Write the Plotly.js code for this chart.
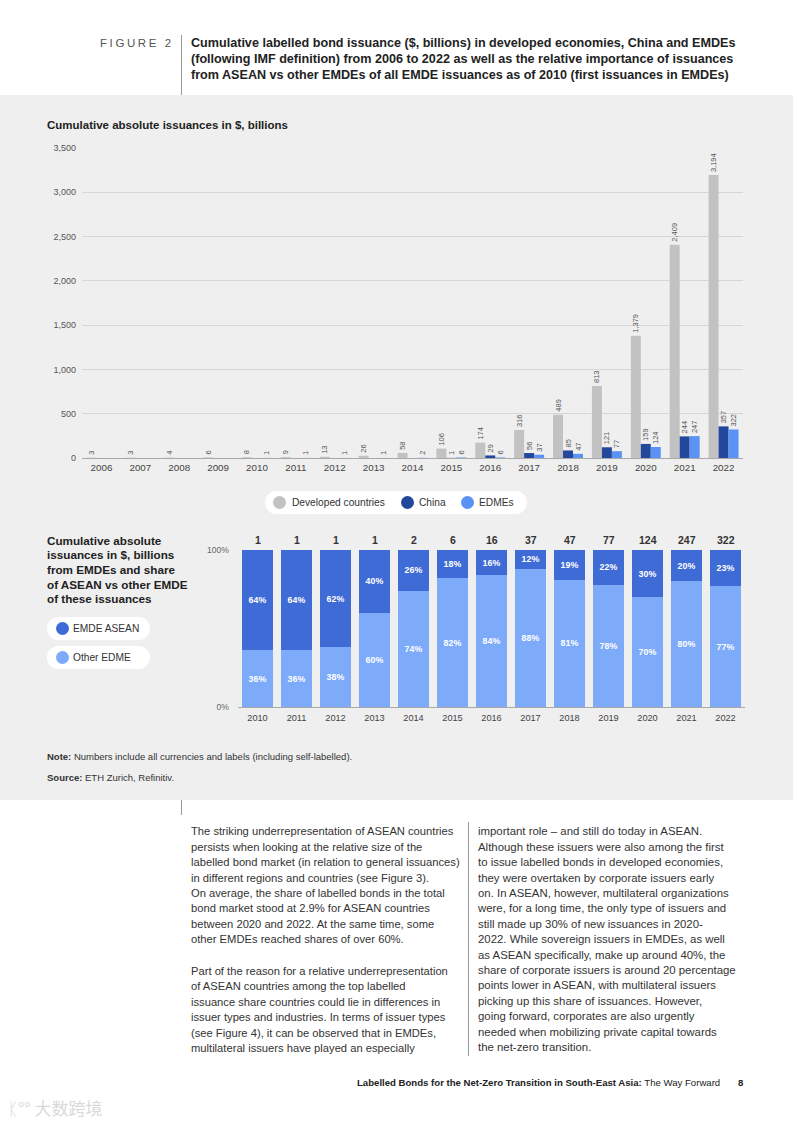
<!DOCTYPE html>
<html>
<head>
<meta charset="utf-8">
<script src="https://cdn.plot.ly/plotly-3.0.1.min.js"></script>
<style>
  html, body { margin:0; padding:0; }
  body { width:793px; height:1122px; position:relative; background:#fff; font-family:"Liberation Sans", Arial, Helvetica, sans-serif; color:#222; overflow:hidden; }
  .abs { position:absolute; }
  .pill { position:absolute; background:#fff; border-radius:12px; }
  .dot { position:absolute; border-radius:50%; }
  .lbl { position:absolute; font-size:10.2px; color:#333; line-height:12px; white-space:nowrap; }
  .body { position:absolute; font-size:11.2px; line-height:15.4px; color:#333; white-space:nowrap; }
</style>
</head>
<body>
<script>
// ---------- DATA ----------
const years = ['2006','2007','2008','2009','2010','2011','2012','2013','2014','2015','2016','2017','2018','2019','2020','2021','2022'];
const developed = [3,3,4,6,8,9,13,26,58,106,174,316,489,813,1379,2409,3194];
const china = [null,null,null,null,null,null,null,null,null,1,29,56,85,121,159,244,357];
const emde = [null,null,null,null,1,1,1,1,2,6,6,37,47,77,124,247,322];

const shareYears = ['2010','2011','2012','2013','2014','2015','2016','2017','2018','2019','2020','2021','2022'];
const aseanShare = [64,64,62,40,26,18,16,12,19,22,30,20,23];
const otherShare = [36,36,38,60,74,82,84,88,81,78,70,80,77];
const emdeTotals = [1,1,1,1,2,6,16,37,47,77,124,247,322];

const yTicks = [0,500,1000,1500,2000,2500,3000,3500];
</script>

<!-- header -->
<div class="abs" style="left:100px; top:35px; font-size:11.5px; line-height:16px; letter-spacing:2.6px; color:#555;">FIGURE 2</div>
<div class="abs" style="left:181px; top:35px; width:0; height:60px; border-left:1px solid #999;"></div>
<div class="abs" style="left:191px; top:35px; font-size:12.6px; line-height:16px; font-weight:bold; color:#222; white-space:nowrap;">Cumulative labelled bond issuance ($, billions) in developed economies, China and EMDEs<br>(following IMF definition) from 2006 to 2022 as well as the relative importance of issuances<br>from ASEAN vs other EMDEs of all EMDE issuances as of 2010 (first issuances in EMDEs)</div>

<!-- grey panel -->
<div class="abs" style="left:0; top:95px; width:793px; height:705px; background:#efefef;"></div>

<div id="top" class="abs" style="left:0; top:95px; width:793px; height:430px;"></div>

<!-- top legend -->
<div class="pill" style="left:265px; top:491px; width:262px; height:23px; border-radius:11.5px;"></div>
<div class="dot" style="left:272.5px; top:496px; width:13px; height:13px; background:#c2c2c2;"></div>
<div class="lbl" style="left:292px; top:496.5px;">Developed countries</div>
<div class="dot" style="left:400.5px; top:496px; width:13px; height:13px; background:#23479b;"></div>
<div class="lbl" style="left:419px; top:496.5px;">China</div>
<div class="dot" style="left:460.5px; top:496px; width:13px; height:13px; background:#5a93f5;"></div>
<div class="lbl" style="left:479px; top:496.5px;">EDMEs</div>

<div id="bottom" class="abs" style="left:0; top:525px; width:793px; height:210px;"></div>

<!-- bottom-left title + legend -->
<div class="abs" style="left:47px; top:533.5px; font-size:11.7px; line-height:14.7px; font-weight:bold; color:#222; white-space:nowrap;">Cumulative absolute<br>issuances in $, billions<br>from EMDEs and share<br>of ASEAN vs other EMDE<br>of these issuances</div>
<div class="pill" style="left:47px; top:617px; width:103px; height:23px; border-radius:11.5px;"></div>
<div class="dot" style="left:55.5px; top:622px; width:13px; height:13px; background:#3f6bd6;"></div>
<div class="lbl" style="left:73px; top:622.5px; font-size:10.2px;">EMDE ASEAN</div>
<div class="pill" style="left:47px; top:646px; width:103px; height:23px; border-radius:11.5px;"></div>
<div class="dot" style="left:55.5px; top:651px; width:13px; height:13px; background:#7eabf9;"></div>
<div class="lbl" style="left:73px; top:651.5px; font-size:10.2px;">Other EDME</div>

<!-- notes -->
<div class="abs" style="left:47px; top:751px; font-size:9.5px; line-height:12px; color:#333; white-space:nowrap;"><b>Note:</b> Numbers include all currencies and labels (including self-labelled).</div>
<div class="abs" style="left:47px; top:772px; font-size:9.5px; line-height:12px; color:#333; white-space:nowrap;"><b>Source:</b> ETH Zurich, Refinitiv.</div>

<div class="abs" style="left:181px; top:800px; width:0; height:15px; border-left:1px solid #999;"></div>

<!-- body text -->
<div class="body" style="left:191px; top:824.3px;">The striking underrepresentation of ASEAN countries<br>persists when looking at the relative size of the<br>labelled bond market (in relation to general issuances)<br>in different regions and countries (see Figure 3).<br>On average, the share of labelled bonds in the total<br>bond market stood at 2.9% for ASEAN countries<br>between 2020 and 2022. At the same time, some<br>other EMDEs reached shares of over 60%.
<div style="margin-top:16.5px;">Part of the reason for a relative underrepresentation<br>of ASEAN countries among the top labelled<br>issuance share countries could lie in differences in<br>issuer types and industries. In terms of issuer types<br>(see Figure 4), it can be observed that in EMDEs,<br>multilateral issuers have played an especially</div></div>

<div class="abs" style="left:468px; top:822px; width:0; height:234px; border-left:1px solid #999;"></div>
<div class="body" style="left:478px; top:824.3px; font-size:11.4px;">important role – and still do today in ASEAN.<br>Although these issuers were also among the first<br>to issue labelled bonds in developed economies,<br>they were overtaken by corporate issuers early<br>on. In ASEAN, however, multilateral organizations<br>were, for a long time, the only type of issuers and<br>still made up 30% of new issuances in 2020-<br>2022. While sovereign issuers in EMDEs, as well<br>as ASEAN specifically, make up around 40%, the<br>share of corporate issuers is around 20 percentage<br>points lower in ASEAN, with multilateral issuers<br>picking up this share of issuances. However,<br>going forward, corporates are also urgently<br>needed when mobilizing private capital towards<br>the net-zero transition.</div>

<!-- footer -->
<div class="abs" style="left:357px; top:1077px; font-size:9.6px; line-height:12px; color:#222; white-space:nowrap;"><span style="font-weight:bold;">Labelled Bonds for the Net-Zero Transition in South-East Asia:</span> The Way Forward</div>
<div class="abs" style="left:738px; top:1077px; font-size:9.6px; line-height:12px; font-weight:bold; color:#222;">8</div>
<div class="abs" style="left:8px; top:1097px; font-size:17px; line-height:22px; color:#d9d9d9; font-family:'Noto Sans CJK SC', sans-serif; white-space:nowrap;">ᛕ°° 大数跨境</div>

<script>
const FONT = '"Liberation Sans", Arial, Helvetica, sans-serif';

// ---------- TOP CHART ----------
function barTrace(name, vals, color) {
  return {
    type: 'bar', name: name, x: years, y: vals,
    marker: { color: color },
    text: vals.map(v => v == null ? '' : v.toLocaleString('en-US')),
    textposition: 'outside', textangle: -90, constraintext: 'none', cliponaxis: false,
    textfont: { family: FONT, size: 7.5, color: '#555' },
    hoverinfo: 'x+y', showlegend: false
  };
}
const topData = [
  barTrace('Developed countries', developed, '#c2c2c2'),
  barTrace('China', china, '#23479b'),
  barTrace('EDMEs', emde, '#5a93f5')
];
const topLayout = {
  width: 793, height: 430,
  margin: { l: 81.5, r: 49.5, t: 53, b: 67 },
  paper_bgcolor: 'rgba(0,0,0,0)', plot_bgcolor: 'rgba(0,0,0,0)',
  barmode: 'group', bargap: 0.23, bargroupgap: 0,
  title: { text: 'Cumulative absolute issuances in $, billions', x: 47/793, xanchor: 'left', xref: 'container',
           y: 1 - 30/430, yanchor: 'middle', yref: 'container',
           font: { family: FONT, size: 11.5, color: '#222', weight: 'bold' } },
  xaxis: { type: 'category', range: [-0.5, years.length - 0.5], autorange: false,
           showline: true, linecolor: '#a8a8a8', linewidth: 1, ticks: '', showgrid: false,
           tickfont: { family: FONT, size: 9.8, color: '#444' }, fixedrange: true },
  yaxis: { range: [0, 3500], autorange: false, tickvals: yTicks, tickformat: ',', ticks: '', showline: false, zeroline: false,
           gridcolor: '#d6d6d6', gridwidth: 1, tickfont: { family: FONT, size: 9, color: '#555' },
           ticklabelstandoff: 5, fixedrange: true },
  font: { family: FONT }
};
Plotly.newPlot('top', topData, topLayout, { displayModeBar: false, staticPlot: true });

// ---------- BOTTOM CHART ----------
const pctFont = { family: FONT, size: 8.8, color: '#ffffff', weight: 'bold' };
const bottomData = [
  { type: 'bar', name: 'Other EDME', x: shareYears, y: otherShare, marker: { color: '#7eabf9' },
    text: otherShare.map(v => v + '%'), textposition: 'inside', insidetextanchor: 'middle', textangle: 0,
    constraintext: 'none', textfont: pctFont, showlegend: false },
  { type: 'bar', name: 'EMDE ASEAN', x: shareYears, y: aseanShare, marker: { color: '#3f6bd6' },
    text: aseanShare.map(v => v + '%'), textposition: 'inside', insidetextanchor: 'middle', textangle: 0,
    constraintext: 'none', textfont: pctFont, showlegend: false }
];
const bottomLayout = {
  width: 793, height: 210,
  margin: { l: 237.5, r: 47.5, t: 25, b: 28 },
  paper_bgcolor: 'rgba(0,0,0,0)', plot_bgcolor: 'rgba(0,0,0,0)',
  barmode: 'stack', bargap: 0.23,
  xaxis: { type: 'category', range: [-0.5, shareYears.length - 0.5], autorange: false,
           showline: true, linecolor: '#a8a8a8', ticks: '', showgrid: false,
           tickfont: { family: FONT, size: 9.2, color: '#444' }, ticklabelstandoff: 2, fixedrange: true },
  yaxis: { range: [0, 100], autorange: false, tickvals: [0, 100], ticktext: ['0%', '100%'], ticks: '', showline: false, zeroline: false,
           gridcolor: '#dcdcdc', tickfont: { family: FONT, size: 8.6, color: '#666' }, ticklabelstandoff: 8, fixedrange: true },
  annotations: shareYears.map((yr, i) => ({
    x: i, y: 100, xref: 'x', yref: 'y', yanchor: 'bottom', yshift: 2, showarrow: false,
    text: String(emdeTotals[i]), font: { family: FONT, size: 10.5, color: '#333', weight: 'bold' }
  })),
  font: { family: FONT }
};
Plotly.newPlot('bottom', bottomData, bottomLayout, { displayModeBar: false, staticPlot: true });
</script>
</body>
</html>
